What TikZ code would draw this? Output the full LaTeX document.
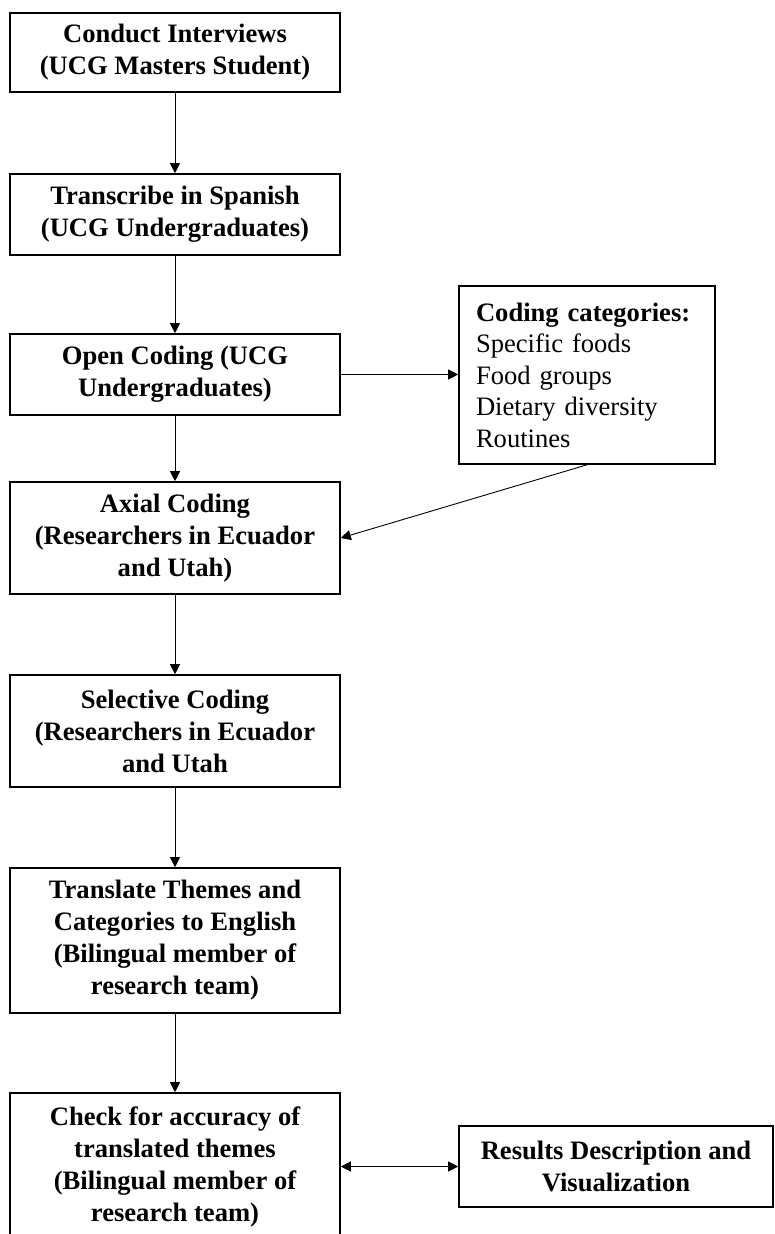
\documentclass[tikz,border=0pt]{standalone}
\usepackage{fontspec}
\setmainfont{Liberation Serif}
\usetikzlibrary{arrows.meta}
\begin{document}
\begin{tikzpicture}[x=1pt,y=-1pt,
  stepbox/.style={draw, line width=1.6pt, minimum width=330pt, align=center, inner sep=0pt,
    font=\fontsize{26.6}{32}\selectfont\bfseries},
  sidebox/.style={draw, line width=1.6pt, inner sep=0pt,
    font=\fontsize{26.6}{31.5}\selectfont},
  flow/.style={line width=0.9pt, -{Triangle[length=10pt,width=10pt]}},
  flowboth/.style={line width=0.9pt, {Triangle[length=10pt,width=10pt]}-{Triangle[length=10pt,width=10pt]}}]
\clip (0,0) rectangle (775,1234);
\fill[white] (0,0) rectangle (775,1234);
\node[stepbox, minimum height=79pt] (b1) at (175,52.5) {Conduct Interviews\\(UCG Masters Student)};
\node[stepbox, minimum height=81pt] (b2) at (175,214.5) {Transcribe in Spanish\\(UCG Undergraduates)};
\node[stepbox, minimum height=81pt] (b3) at (175,374.5) {Open Coding (UCG\\Undergraduates)};
\node[stepbox, minimum height=112pt] (b4) at (175,538) {Axial Coding\\(Researchers in Ecuador\\and Utah)};
\node[stepbox, minimum height=112pt] (b5) at (175,731) {Selective Coding\\(Researchers in Ecuador\\and Utah};
\node[stepbox, minimum height=145pt] (b6) at (175,940.5) {Translate Themes and\\Categories to English\\(Bilingual member of\\research team)};
\node[stepbox, minimum height=148pt] (b7) at (175,1167) {Check for accuracy of\\translated themes\\(Bilingual member of\\research team)};
\node[stepbox, minimum width=314pt, minimum height=81pt] (res) at (616,1166.5) {Results Description and\\Visualization};
\node[sidebox, minimum width=256pt, minimum height=178pt, text width=222pt, align=left] (cat) at (587,375)
  {\textbf{Coding categories:}\\Specific foods\\Food groups\\Dietary diversity\\Routines};
\draw[flow] (b1) -- (b2);
\draw[flow] (b2) -- (b3);
\draw[flow] (b3) -- (b4);
\draw[flow] (b4) -- (b5);
\draw[flow] (b5) -- (b6);
\draw[flow] (b6) -- (b7);
\draw[flow] (b3.east) -- (cat.west |- b3.east);
\draw[flow] (cat.south) -- (b4.east);
\draw[flowboth] (b7.east |- res.west) -- (res.west);
\end{tikzpicture}
\end{document}
